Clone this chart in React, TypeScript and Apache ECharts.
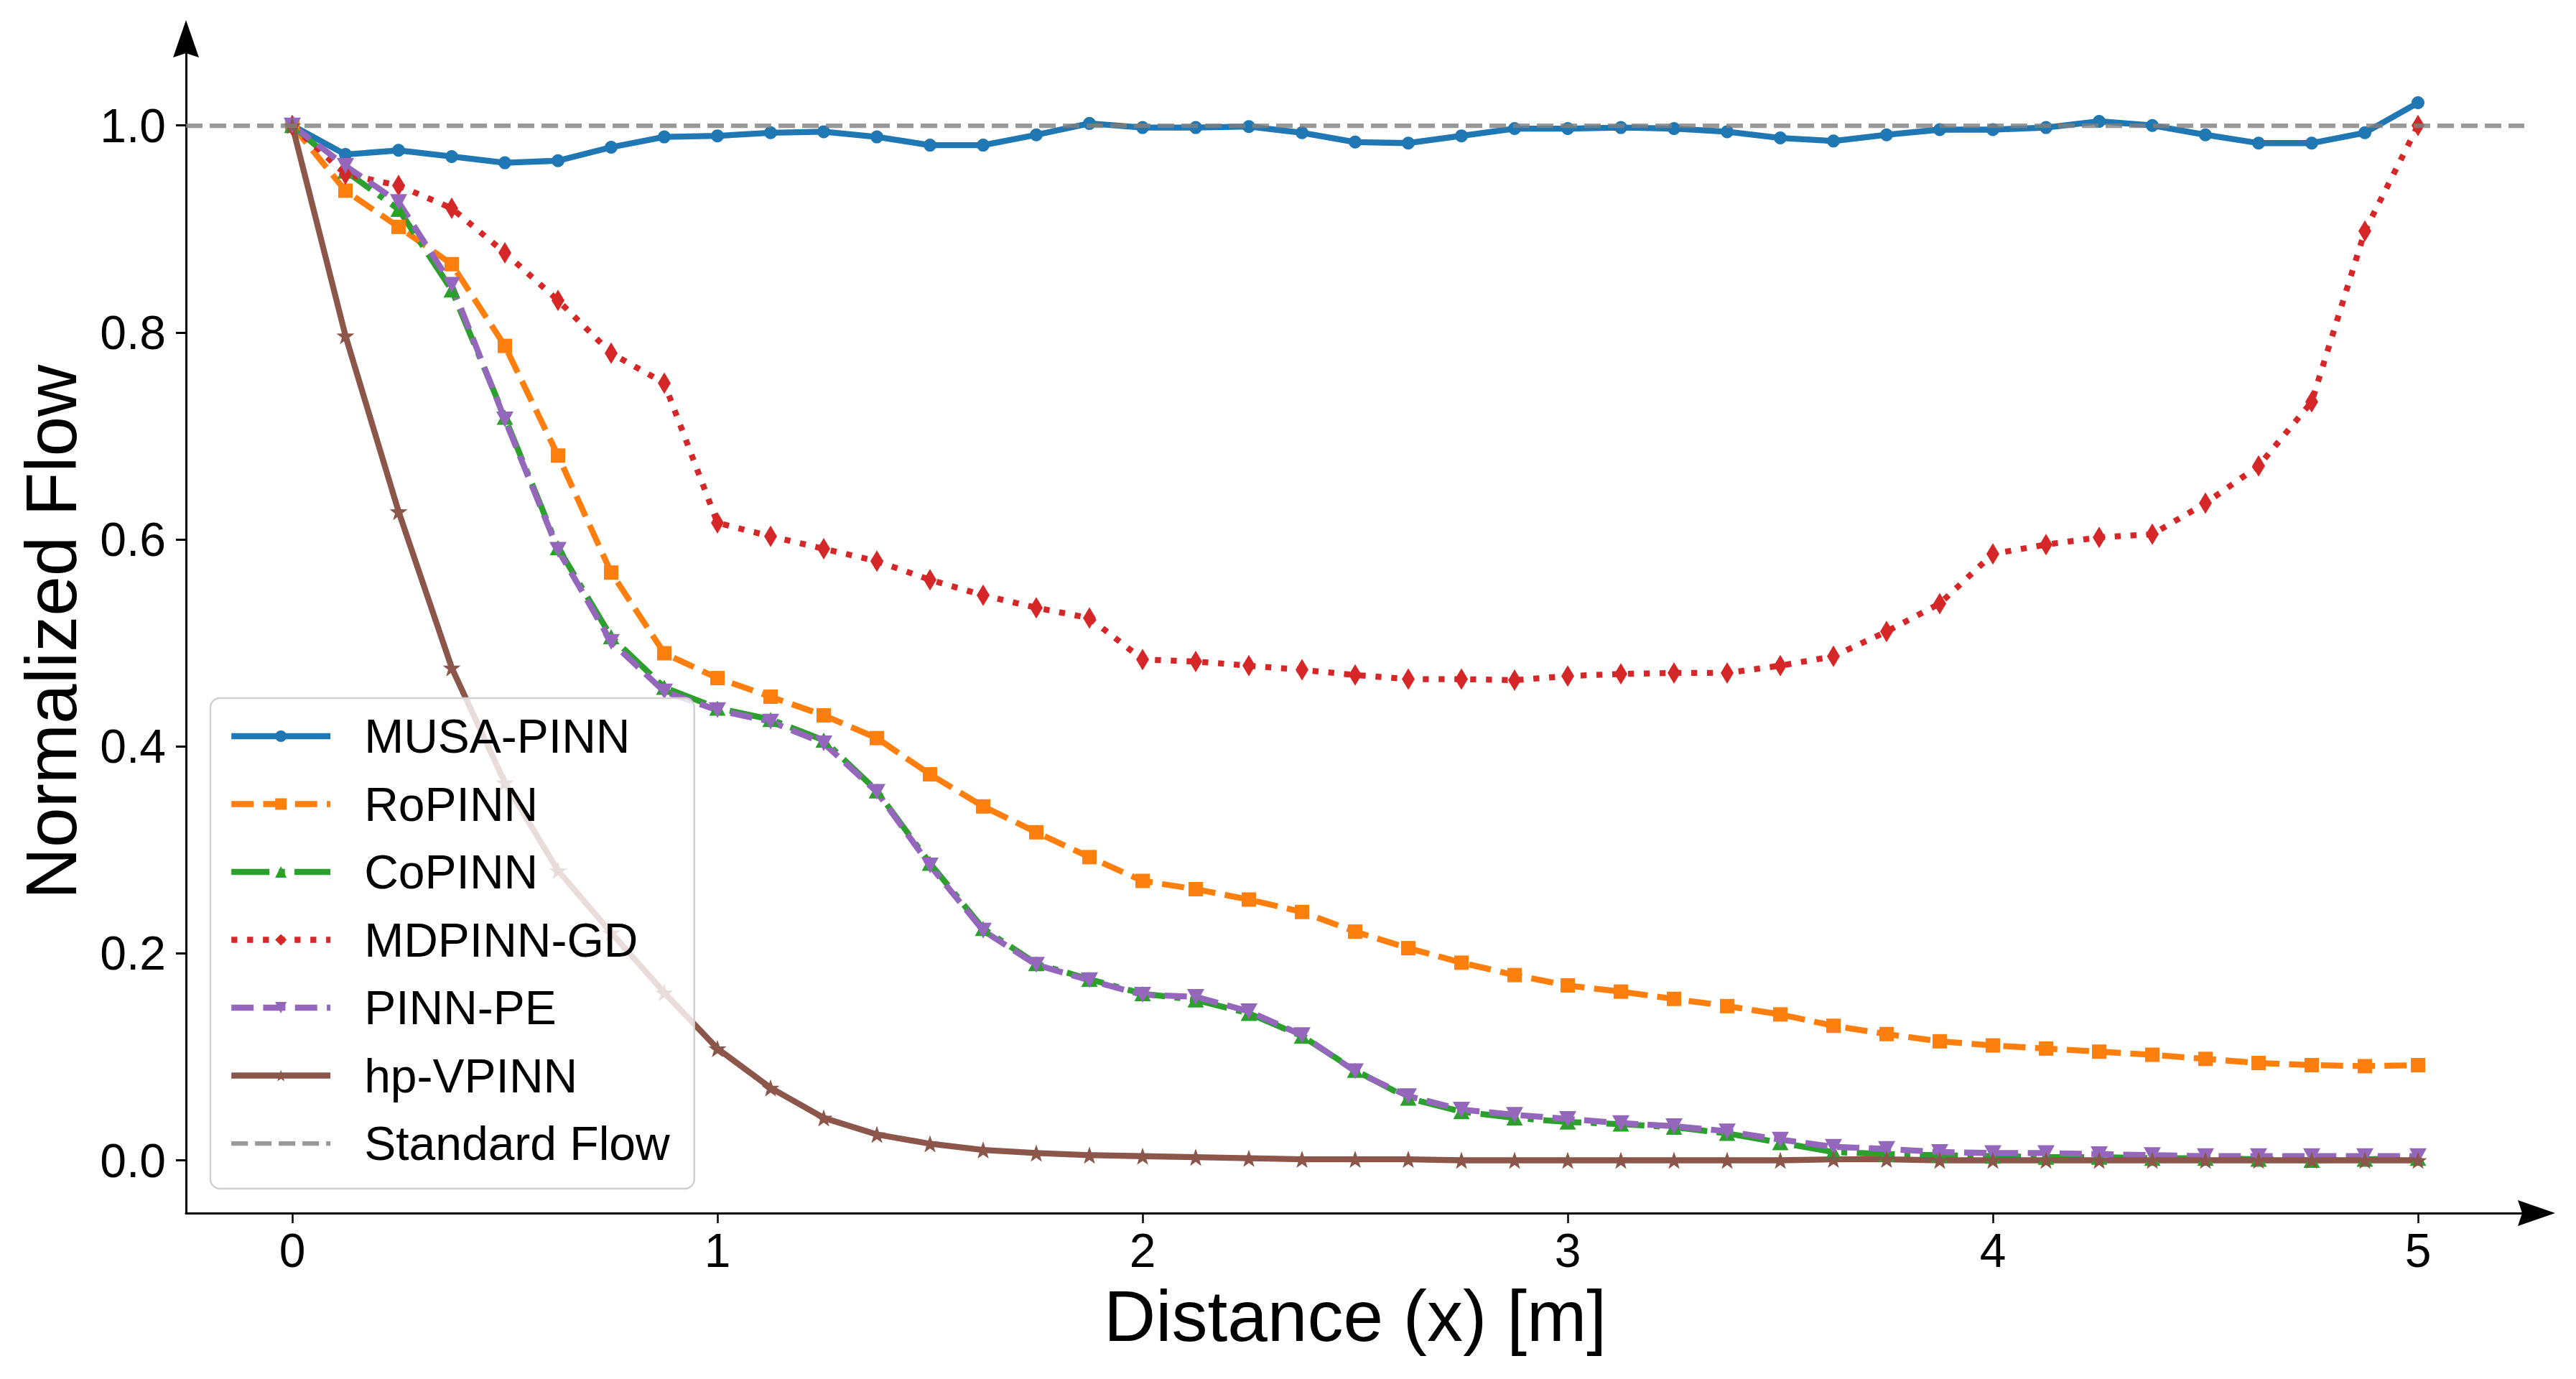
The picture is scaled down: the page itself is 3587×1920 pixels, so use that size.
import React, { useEffect, useRef } from "react";
import * as echarts from "echarts";

// ---------- data ----------
const xValues = [
  0, 0.125, 0.25, 0.375, 0.5, 0.625, 0.75, 0.875, 1, 1.125, 1.25, 1.375, 1.5, 1.625,
  1.75, 1.875, 2, 2.125, 2.25, 2.375, 2.5, 2.625, 2.75, 2.875, 3, 3.125, 3.25, 3.375,
  3.5, 3.625, 3.75, 3.875, 4, 4.125, 4.25, 4.375, 4.5, 4.625, 4.75, 4.875, 5,
];

const musaPinn = [
  1.0, 0.972, 0.976, 0.97, 0.964, 0.966, 0.979, 0.989, 0.99, 0.993,
  0.994, 0.989, 0.981, 0.981, 0.991, 1.002, 0.998, 0.998, 0.999, 0.993,
  0.984, 0.983, 0.99, 0.997, 0.997, 0.998, 0.997, 0.994, 0.988, 0.985,
  0.991, 0.996, 0.996, 0.998, 1.004, 1.0, 0.991, 0.983, 0.983, 0.993,
  1.022,
];
const roPinn = [
  1.0, 0.937, 0.902, 0.866, 0.787, 0.681, 0.568, 0.49, 0.466, 0.448,
  0.43, 0.408, 0.373, 0.342, 0.317, 0.293, 0.27, 0.262, 0.252, 0.24,
  0.221, 0.205, 0.191, 0.179, 0.169, 0.163, 0.156, 0.149, 0.141, 0.13,
  0.122, 0.115, 0.111, 0.108, 0.105, 0.102, 0.098, 0.094, 0.092, 0.091,
  0.092,
];
const coPinn = [
  1.0, 0.956, 0.919, 0.841, 0.718, 0.592, 0.506, 0.457, 0.437, 0.426,
  0.406, 0.357, 0.287, 0.224, 0.19, 0.175, 0.161, 0.155, 0.142, 0.12,
  0.087, 0.06, 0.047, 0.041, 0.037, 0.035, 0.032, 0.026, 0.017, 0.008,
  0.006, 0.005, 0.004, 0.003, 0.003, 0.002, 0.002, 0.001, 0.0, 0.001,
  0.002,
];
const mdPinnGd = [
  1.0, 0.953, 0.942, 0.92, 0.877, 0.831, 0.78, 0.751, 0.616, 0.603,
  0.591, 0.579, 0.561, 0.546, 0.534, 0.524, 0.484, 0.482, 0.478, 0.474,
  0.469, 0.465, 0.465, 0.464, 0.468, 0.47, 0.471, 0.471, 0.478, 0.487,
  0.511, 0.538, 0.586, 0.595, 0.602, 0.605, 0.635, 0.671, 0.733, 0.898,
  1.0,
];
const pinnPe = [
  1.0, 0.961, 0.926, 0.846, 0.716, 0.59, 0.501, 0.453, 0.435, 0.424,
  0.403, 0.356, 0.285, 0.222, 0.189, 0.174, 0.16, 0.158, 0.144, 0.121,
  0.086, 0.062, 0.049, 0.044, 0.04, 0.036, 0.033, 0.028, 0.02, 0.013,
  0.011, 0.008, 0.007, 0.007, 0.006, 0.005, 0.004, 0.004, 0.004, 0.004,
  0.004,
];
const hpVpinn = [
  1.0, 0.797, 0.627, 0.476, 0.365, 0.28, 0.22, 0.162, 0.108, 0.07,
  0.041, 0.025, 0.016, 0.01, 0.007, 0.005, 0.004, 0.003, 0.002, 0.001,
  0.001, 0.001, 0.0, 0.0, 0.0, 0.0, 0.0, 0.0, 0.0, 0.001,
  0.001, 0.0, 0.0, 0.0, 0.0, 0.0, 0.0, 0.0, 0.0, 0.0,
  0.0,
];
const standardFlowLevel = 1.0;

const xTicks = [0, 1, 2, 3, 4, 5];
const yTicks = [0, 0.2, 0.4, 0.6, 0.8, 1.0];
const xRange = [-0.25, 5.25];
const yRange = [-0.051, 1.072];

// ---------- styles ----------
const FONT = "'Liberation Sans', Arial, Helvetica, sans-serif";
const LW = 8.3;
const DASHED = [31, 13.3];
const DOTTED = [8.3, 13.7];
const DASHDOT = [53, 13.3, 8.3, 13.3];
const ARROW = "path://M18,0L36,52L18,46L0,52Z";
const STAR =
  "path://M0,-10L2.35,-3.24L9.51,-3.09L3.8,1.24L5.88,8.09L0,4L-5.88,8.09L-3.8,1.24L-9.51,-3.09L-2.35,-3.24Z";

function makeSeries(
  name: string,
  values: number[],
  color: string,
  dash: any,
  symbol: string,
  size: any,
  rotate = 0
) {
  return {
    type: "line",
    name,
    data: xValues.map((x, i) => [x, values[i]]),
    symbol,
    symbolSize: size,
    symbolRotate: rotate,
    showSymbol: true,
    showAllSymbol: true,
    lineStyle: { color, width: LW, type: dash, join: "round", cap: "butt" },
    itemStyle: { color, borderWidth: 0 },
    emphasis: { disabled: true },
    silent: true,
  };
}

export default function App() {
  const ref = useRef<HTMLDivElement>(null);

  useEffect(() => {
    if (!ref.current) return;
    const chart = echarts.init(ref.current, undefined, { renderer: "svg" });

    const axisLine = (w: number) => ({
      show: true,
      onZero: false,
      symbol: ["none", ARROW],
      symbolSize: [36, 52],
      symbolOffset: [0, 17],
      lineStyle: { color: "#000", width: w },
    });

    const option: any = {
      animation: false,
      backgroundColor: "#ffffff",
      textStyle: { fontFamily: FONT },
      grid: { left: 259, top: 71, width: 3256, height: 1618, containLabel: false },
      xAxis: {
        type: "value",
        min: xRange[0],
        max: xRange[1],
        name: "Distance (x) [m]",
        nameLocation: "middle",
        nameGap: 93,
        nameTextStyle: { fontFamily: FONT, fontSize: 100, lineHeight: 100, color: "#000" },
        axisLine: axisLine(3),
        axisTick: {
          show: true,
          inside: false,
          length: 14,
          customValues: xTicks,
          lineStyle: { color: "#000", width: 2.5 },
        },
        axisLabel: {
          show: true,
          customValues: xTicks,
          margin: 19,
          fontFamily: FONT,
          fontSize: 66,
          lineHeight: 66,
          color: "#000",
          formatter: (v: number) => String(v),
        },
        splitLine: { show: false },
      },
      yAxis: {
        type: "value",
        min: yRange[0],
        max: yRange[1],
        name: "Normalized Flow",
        nameLocation: "middle",
        nameRotate: 90,
        nameGap: 138,
        nameTextStyle: { fontFamily: FONT, fontSize: 100, lineHeight: 100, color: "#000" },
        axisLine: axisLine(3),
        axisTick: {
          show: true,
          inside: false,
          length: 14,
          customValues: yTicks,
          lineStyle: { color: "#000", width: 3 },
        },
        axisLabel: {
          show: true,
          customValues: yTicks,
          margin: 28,
          fontFamily: FONT,
          fontSize: 66,
          lineHeight: 66,
          color: "#000",
          formatter: (v: number) => v.toFixed(1),
        },
        splitLine: { show: false },
      },
      legend: {
        orient: "vertical",
        left: 293,
        top: 972,
        padding: [20, 34, 30, 25],
        itemWidth: 138,
        itemHeight: 20,
        itemGap: 28.5,
        selectedMode: false,
        backgroundColor: "rgba(255,255,255,0.8)",
        borderColor: "#d0d0d0",
        borderWidth: 2.5,
        borderRadius: 13,
        lineStyle: { width: "inherit", type: "inherit", color: "inherit", opacity: "inherit" },
        textStyle: {
          fontFamily: FONT,
          fontSize: 66,
          lineHeight: 66,
          color: "#000",
          padding: [0, 0, 0, 42],
        },
        data: [
          "MUSA-PINN",
          "RoPINN",
          "CoPINN",
          "MDPINN-GD",
          "PINN-PE",
          "hp-VPINN",
          { name: "Standard Flow", itemStyle: { opacity: 0 } },
        ],
      },
      series: [
        makeSeries("MUSA-PINN", musaPinn, "#1f77b4", "solid", "circle", 18),
        makeSeries("RoPINN", roPinn, "#ff7f0e", DASHED, "rect", 20),
        makeSeries("CoPINN", coPinn, "#2ca02c", DASHDOT, "triangle", [23, 21]),
        makeSeries("MDPINN-GD", mdPinnGd, "#d62728", DOTTED, "diamond", [18, 30]),
        makeSeries("PINN-PE", pinnPe, "#9467bd", DASHED, "triangle", [24, 22], 180),
        makeSeries("hp-VPINN", hpVpinn, "#8c564b", "solid", STAR, [25, 24]),
        {
          type: "line",
          name: "Standard Flow",
          data: [],
          symbol: "none",
          lineStyle: { color: "#808080", opacity: 0.8, width: 6.25, type: [23, 10] },
          itemStyle: { color: "#808080" },
          emphasis: { disabled: true },
          silent: true,
          markLine: {
            silent: true,
            animation: false,
            symbol: ["none", "none"],
            label: { show: false },
            emphasis: { disabled: true },
            lineStyle: { color: "#808080", opacity: 0.8, width: 6.25, type: [23, 10], cap: "butt" },
            data: [{ yAxis: standardFlowLevel }],
          },
        },
      ],
    };

    chart.setOption(option);
    return () => {
      chart.dispose();
    };
  }, []);

  return (
    <div
      ref={ref}
      style={{ position: "absolute", left: 0, top: 0, width: 3587, height: 1920, background: "#fff" }}
    />
  );
}
